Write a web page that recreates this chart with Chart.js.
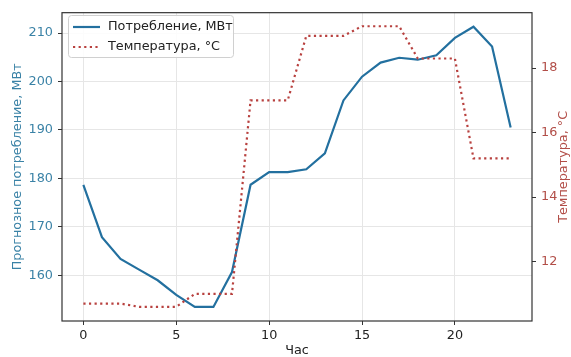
<!DOCTYPE html>
<html>
<head>
<meta charset="utf-8">
<script src="https://cdn.jsdelivr.net/npm/chart.js@4"></script>
<style>
  html, body { margin: 0; padding: 0; background: #fff; }
  #chart { display: block; }
</style>
</head>
<body>
<canvas id="chart" width="571" height="357"></canvas>
<script>
// hourly data
const hours = [0, 1, 2, 3, 4, 5, 6, 7, 8, 9, 10, 11, 12, 13, 14, 15, 16, 17, 18, 19, 20, 21, 22, 23];
const consumption = [178.7, 167.9, 163.4, 161.2, 159.0, 156.0, 153.5, 153.5, 160.7, 178.7, 181.3, 181.3, 181.9, 185.2,
    196.1, 201.0, 203.9, 204.9, 204.5, 205.4, 209.0, 211.3, 207.2, 190.5];
const temperature = [10.7, 10.7, 10.7, 10.6, 10.6, 10.6, 11.0, 11.0, 11.0, 17.0, 17.0, 17.0, 19.0, 19.0,
    19.0, 19.3, 19.3, 19.3, 18.3, 18.3, 18.3, 15.2, 15.2, 15.2];

const xTicks = [0, 5, 10, 15, 20];
const leftTicks = [160, 170, 180, 190, 200, 210];
const rightTicks = [12, 14, 16, 18];

const labels = {
    x: "Час",
    left: "Прогнозное потребление, МВт",
    right: "Температура, °C",
    cons: "Потребление, МВт",
    temp: "Температура, °C"
};

const BLUE = "#23709f";
const RED = "#b8413f";
const BLUE_TXT = "#3a82a6";
const RED_TXT = "#b24e48";
const FONT = "'DejaVu Sans', sans-serif";
const FS = 12.8;

// frame, axis titles and legend box (matplotlib style)
const decor = {
    id: "decor",
    afterDraw(chart) {
        const ctx = chart.ctx;
        const a = chart.chartArea;
        ctx.save();
        ctx.strokeStyle = "#333";
        ctx.lineWidth = 1.2;
        ctx.strokeRect(a.left, a.top, a.right - a.left, a.bottom - a.top);

        ctx.font = FS + "px " + FONT;
        ctx.textAlign = "center";
        ctx.textBaseline = "middle";
        const midY = (a.top + a.bottom) / 2;

        ctx.fillStyle = "#222";
        ctx.fillText(labels.x, (a.left + a.right) / 2, 351);

        ctx.save();
        ctx.translate(18, midY);
        ctx.rotate(-Math.PI / 2);
        ctx.fillStyle = BLUE_TXT;
        ctx.fillText(labels.left, 0, 0);
        ctx.restore();

        ctx.save();
        ctx.translate(564, midY);
        ctx.rotate(-Math.PI / 2);
        ctx.fillStyle = RED_TXT;
        ctx.fillText(labels.right, 0, 0);
        ctx.restore();

        // legend
        const bx = 68.5, by = 15.5, bw = 165, bh = 42;
        ctx.fillStyle = "rgba(255,255,255,0.85)";
        ctx.strokeStyle = "#d0d0d0";
        ctx.lineWidth = 1;
        ctx.beginPath();
        ctx.roundRect(bx, by, bw, bh, 3);
        ctx.fill();
        ctx.stroke();

        ctx.lineWidth = 2.2;
        ctx.strokeStyle = BLUE;
        ctx.beginPath();
        ctx.moveTo(73, 27);
        ctx.lineTo(100, 27);
        ctx.stroke();

        ctx.strokeStyle = RED;
        ctx.setLineDash([2.2, 3.4]);
        ctx.beginPath();
        ctx.moveTo(73, 47);
        ctx.lineTo(100, 47);
        ctx.stroke();
        ctx.setLineDash([]);

        ctx.fillStyle = "#222";
        ctx.textAlign = "left";
        ctx.fillText(labels.cons, 108, 27);
        ctx.fillText(labels.temp, 108, 47);
        ctx.restore();
    }
};

function fixTicks(values) {
    return scale => { scale.ticks = values.map(v => ({ value: v })); };
}

new Chart(document.getElementById("chart"), {
    type: "line",
    data: {
        datasets: [
            {
                label: labels.temp,
                data: hours.map((h, i) => ({ x: h, y: temperature[i] })),
                yAxisID: "y2",
                borderColor: RED,
                borderWidth: 2.2,
                borderDash: [2.2, 3.4],
                pointRadius: 0,
                tension: 0,
                order: 0
            },
            {
                label: labels.cons,
                data: hours.map((h, i) => ({ x: h, y: consumption[i] })),
                yAxisID: "y",
                borderColor: BLUE,
                borderWidth: 2.2,
                pointRadius: 0,
                tension: 0,
                order: 1
            }
        ]
    },
    options: {
        responsive: false,
        animation: false,
        layout: { padding: { top: 10, left: 0, right: 0, bottom: 0 } },
        plugins: { legend: { display: false }, tooltip: { enabled: false } },
        scales: {
            x: {
                type: "linear",
                min: -1.15,
                max: 24.15,
                afterBuildTicks: fixTicks(xTicks),
                afterFit: s => { s.height = 36; },
                border: { display: false },
                grid: { color: "#e6e6e6", tickColor: "#333", tickLength: 4 },
                ticks: { color: "#222", padding: 3, font: { family: FONT, size: FS } }
            },
            y: {
                position: "left",
                min: 150.6,
                max: 214.2,
                afterBuildTicks: fixTicks(leftTicks),
                afterFit: s => { s.width = 62; },
                border: { display: false },
                grid: { color: "#e6e6e6", tickColor: "#333", tickLength: 4 },
                ticks: { color: BLUE_TXT, padding: 5, font: { family: FONT, size: FS } }
            },
            y2: {
                position: "right",
                min: 10.16,
                max: 19.72,
                afterBuildTicks: fixTicks(rightTicks),
                afterFit: s => { s.width = 39; },
                border: { display: false },
                grid: { drawOnChartArea: false, tickColor: "#333", tickLength: 4 },
                ticks: { color: RED_TXT, padding: 5, font: { family: FONT, size: FS } }
            }
        }
    },
    plugins: [decor]
});
</script>
</body>
</html>
